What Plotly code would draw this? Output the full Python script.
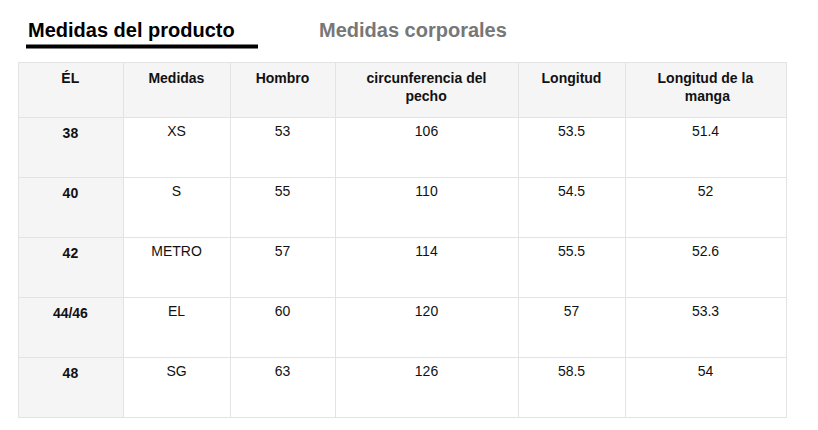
import plotly.graph_objects as go

sp = "&nbsp;"
headers = ["ÉL", "Medidas", "Hombro", "circunferencia del<br>" + sp * 10 + "pecho",
           "Longitud", "Longitud de la<br>" + sp * 7 + "manga"]
eu_size = ["38", "40", "42", "44/46", "48"]
size = ["XS", "S", "METRO", "EL", "SG"]
hombro = ["53", "55", "57", "60", "63"]
pecho = ["106", "110", "114", "120", "126"]
longitud = ["53.5", "54.5", "55.5", "57", "58.5"]
manga = ["51.4", "52", "52.6", "53.3", "54"]

border = "#e3e3e3"
grey = "#f5f5f5"
font = dict(family="Liberation Sans, Arial", size=14, color="#111111")

fig = go.Figure(go.Table(
    domain=dict(x=[10 / 818, 778 / 818], y=[20 / 430, 376 / 430]),
    columnwidth=[105, 107, 105, 183, 107, 161],
    header=dict(
        values=["<b>%s</b>" % h for h in headers],
        height=55,
        align="center",
        fill_color=grey,
        line_color=border,
        font=font,
    ),
    cells=dict(
        values=[["<b>%s</b>" % v for v in eu_size], size, hombro, pecho, longitud, manga],
        height=60,
        align="center",
        fill_color=[[grey] * 5] + [["white"] * 5] * 5,
        line_color=border,
        font=font,
    ),
))

fig.add_annotation(text="<b>Medidas del producto</b>", x=18 / 818, y=1 - 22 / 430,
                   xref="paper", yref="paper", xanchor="left", yanchor="middle",
                   showarrow=False, font=dict(family="Liberation Sans, Arial", size=20, color="#000000"))
fig.add_annotation(text="<b>Medidas corporales</b>", x=309 / 818, y=1 - 22 / 430,
                   xref="paper", yref="paper", xanchor="left", yanchor="middle",
                   showarrow=False, font=dict(family="Liberation Sans, Arial", size=20, color="#777777"))
fig.add_shape(type="line", xref="paper", yref="paper", x0=18 / 818, x1=250 / 818,
              y0=1 - 38.5 / 430, y1=1 - 38.5 / 430, line=dict(color="#000000", width=4))

fig.update_layout(width=818, height=430, margin=dict(l=0, r=0, t=0, b=0),
                  paper_bgcolor="white", plot_bgcolor="white")
fig.write_html("out.html")
